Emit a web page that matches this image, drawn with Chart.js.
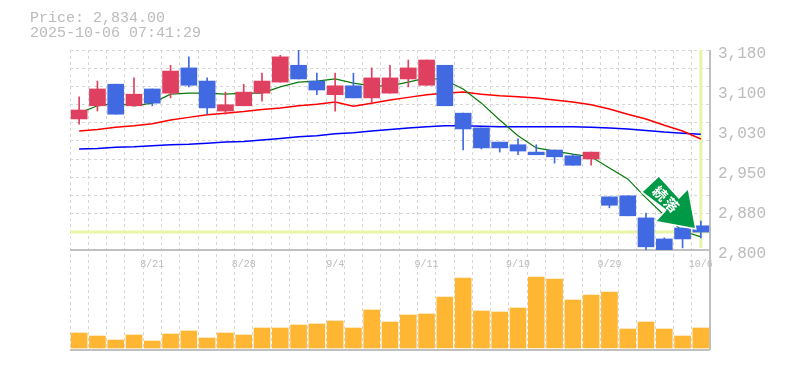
<!DOCTYPE html>
<html>
<head>
<meta charset="utf-8">
<style>
body { margin: 0; background: #fff; }
#wrap { position: relative; width: 785px; height: 370px; }
#head { position: absolute; left: 30px; top: 11px; font: 15px/15px "Liberation Mono", monospace; color: #bbb; white-space: pre; }
canvas { display: block; }
</style>
<script src="https://cdn.jsdelivr.net/npm/chart.js@4/dist/chart.umd.min.js"></script>
</head>
<body>
<div id="wrap">
<div id="head">Price: 2,834.00
2025-10-06 07:41:29</div>
<canvas id="stockChart" width="785" height="370"></canvas>
</div>
<script>
const dates = ['8/15','8/18','8/19','8/20','8/21','8/22','8/25','8/26','8/27','8/28','8/29','9/1','9/2','9/3','9/4','9/5','9/8','9/9','9/10','9/11','9/12','9/16','9/17','9/18','9/19','9/22','9/24','9/25','9/26','9/29','9/30','10/1','10/2','10/3','10/6'];
const labelledDates = ['8/21','8/28','9/4','9/11','9/19','9/29','10/6'];
const priceTicks = [3180,3104,3028,2952,2876,2800];
const priceLabels = ['3,180','3,100','3,030','2,950','2,880','2,800'];

const opens  = [3049,3074,3115,3074,3106,3098,3146,3121,3064,3074,3098,3119,3151,3121,3095,3112,3089,3098,3125,3113,3151,3060,3032,3005,3000,2986,2990,2979,2973,2901,2903,2861,2821,2842,2846];
const closes = [3066,3106,3058,3096,3079,3140,3113,3070,3076,3100,3121,3167,3125,3104,3112,3089,3127,3127,3146,3161,3074,3030,2994,2994,2988,2981,2977,2961,2986,2885,2865,2806,2798,2821,2834];
const highs  = [3091,3121,3115,3127,3106,3151,3167,3127,3100,3115,3136,3170,3180,3136,3136,3136,3146,3151,3161,3161,3151,3060,3032,3005,3011,3000,2990,2982,2986,2901,2903,2870,2823,2842,2855];
const lows   = [3039,3064,3058,3074,3074,3089,3110,3058,3058,3074,3083,3119,3125,3095,3064,3089,3079,3098,3110,3113,3074,2990,2992,2986,2981,2981,2965,2961,2961,2880,2865,2800,2798,2804,2823];

const maShort = [3060,3074,3079,3074,3079,3096,3098,3098,3096,3098,3098,3110,3119,3121,3125,3117,3112,3112,3119,3127,3123,3106,3079,3047,3017,2994,2988,2982,2977,2956,2935,2899,2866,2836,2825];
const maMid   = [3026,3029,3033,3036,3040,3047,3052,3057,3060,3063,3067,3070,3074,3077,3081,3073,3079,3085,3090,3095,3098,3100,3096,3093,3091,3089,3085,3081,3076,3068,3058,3049,3037,3026,3011];
const maLong  = [2992,2993,2995,2996,2998,3000,3001,3003,3005,3006,3009,3012,3015,3017,3021,3023,3026,3029,3032,3034,3036,3036,3035,3034,3034,3034,3034,3034,3033,3032,3030,3027,3024,3022,3020];

const volumes = [15,12,8,13,7,14,17,10,15,13,20,20,23,24,27,20,38,26,33,34,51,70,37,36,40,71,69,48,53,56,19,26,19,12,20];

const lastPrice = 2834;
const signText = ['続', '落'];

const UP = '#e0405f';
const DOWN = '#4169e1';
const candleColors = closes.map((c, i) => c >= opens[i] ? UP : DOWN);

// grid rows are independent of the labelled prices
const yMin = 2800, yMax = 3180, gridRows = 11;
const gridTicks = [];
for (let i = 0; i <= gridRows; i++) gridTicks.push(yMin + i * (yMax - yMin) / gridRows);

const lineSet = (data, color, width) => ({
    type: 'line', data: data, borderColor: color, borderWidth: width,
    pointRadius: 0, tension: 0, order: 3, yAxisID: 'y'
});

// lime cross hair under the candles, frame over the grid
const backdrop = {
    id: 'backdrop',
    beforeDatasetsDraw(chart) {
        const { ctx, chartArea: a, scales } = chart;
        const px = scales.x.getPixelForValue(dates.length - 1);
        const py = scales.y.getPixelForValue(lastPrice);
        ctx.save();
        ctx.strokeStyle = '#e6f5a8';
        ctx.lineWidth = 3;
        ctx.beginPath();
        ctx.moveTo(a.left, py); ctx.lineTo(a.right, py);
        ctx.moveTo(px, a.top); ctx.lineTo(px, scales.y.bottom - 2);
        ctx.stroke();
        ctx.strokeStyle = '#c0c0c0';
        ctx.lineWidth = 2;
        ctx.beginPath();
        ctx.moveTo(a.left, scales.y.bottom); ctx.lineTo(a.right, scales.y.bottom);
        ctx.moveTo(a.left, a.bottom); ctx.lineTo(a.right, a.bottom);
        ctx.moveTo(a.right, a.top); ctx.lineTo(a.right, a.bottom);
        ctx.stroke();
        ctx.restore();
    }
};

// green sign pointing at the last candle
const signArrow = {
    id: 'signArrow',
    afterDatasetsDraw(chart) {
        const { ctx, scales } = chart;
        const tx = scales.x.getPixelForValue(dates.length - 1) - 6;
        const ty = scales.y.getPixelForValue(lastPrice) - 4;
        const shape = [[-36,-51],[-16,-29],[-7,-38],[0,0],[-38,-7],[-28,-18],[-52,-36]];
        ctx.save();
        ctx.translate(tx, ty);
        ctx.beginPath();
        shape.forEach(([x, y], i) => i ? ctx.lineTo(x, y) : ctx.moveTo(x, y));
        ctx.closePath();
        ctx.strokeStyle = '#fff';
        ctx.lineWidth = 3;
        ctx.stroke();
        ctx.fillStyle = '#009a46';
        ctx.fill();
        ctx.fillStyle = '#fff';
        ctx.font = 'bold 14px "Noto Sans CJK JP"';
        ctx.textAlign = 'center';
        ctx.textBaseline = 'middle';
        ctx.translate(-29, -29);
        ctx.rotate(Math.PI / 4);
        ctx.fillText(signText[0], -8, 0);
        ctx.fillText(signText[1], 8, 0);
        ctx.restore();
    }
};

new Chart(document.getElementById('stockChart').getContext('2d'), {
    type: 'bar',
    data: {
        labels: dates,
        datasets: [
            { data: dates.map((d, i) => [opens[i], closes[i]]), backgroundColor: candleColors, barThickness: 16, grouped: false, order: 1, yAxisID: 'y' },
            { data: dates.map((d, i) => [lows[i], highs[i]]), backgroundColor: candleColors, barThickness: 1, grouped: false, order: 2, yAxisID: 'y' },
            lineSet(maShort, '#0a7a0a', 1.2),
            lineSet(maMid, '#ff0000', 1.5),
            lineSet(maLong, '#0000ff', 1.5),
            { data: volumes, backgroundColor: '#ffb733', barThickness: 16, grouped: false, order: 4, yAxisID: 'vol' }
        ]
    },
    plugins: [backdrop, signArrow],
    options: {
        responsive: false,
        animation: false,
        layout: { padding: { top: 50, left: 70, right: 0, bottom: 20 } },
        plugins: { legend: { display: false }, tooltip: { enabled: false } },
        scales: {
            x: {
                position: { y: yMin },
                afterFit(scale) { scale.height = 0; },
                grid: { color: '#d6d6d6', lineWidth: 1, drawTicks: false, offset: true },
                border: { display: false, dash: [3, 3] },
                ticks: {
                    autoSkip: false, maxRotation: 0, padding: 8, color: '#bbbbbb',
                    font: { family: '"Liberation Mono", monospace', size: 10 },
                    callback(value) {
                        const d = dates[value];
                        return labelledDates.includes(d) ? d : '';
                    }
                }
            },
            y: {
                position: 'right', stack: 'panes', stackWeight: 2,
                min: yMin, max: yMax,
                afterFit(scale) { scale.width = 75; },
                afterBuildTicks(scale) {
                    scale.ticks = [...new Set(gridTicks.concat(priceTicks))].map(v => ({ value: v }));
                },
                grid: {
                    drawTicks: false,
                    color: ctx => gridTicks.includes(ctx.tick && ctx.tick.value) ? '#d6d6d6' : 'rgba(0,0,0,0)'
                },
                border: { display: false, dash: [3, 3] },
                ticks: {
                    autoSkip: false, padding: 8, labelOffset: 4, color: '#bbbbbb',
                    font: { family: '"Liberation Mono", monospace', size: 16 },
                    callback(value) {
                        const i = priceTicks.indexOf(value);
                        return i < 0 ? '' : priceLabels[i];
                    }
                }
            },
            vol: {
                position: 'right', stack: 'panes', stackWeight: 1,
                min: -2, max: 98,
                afterFit(scale) { scale.width = 75; },
                grid: { display: false },
                border: { display: false },
                ticks: { display: false }
            }
        }
    }
});
</script>
</body>
</html>
